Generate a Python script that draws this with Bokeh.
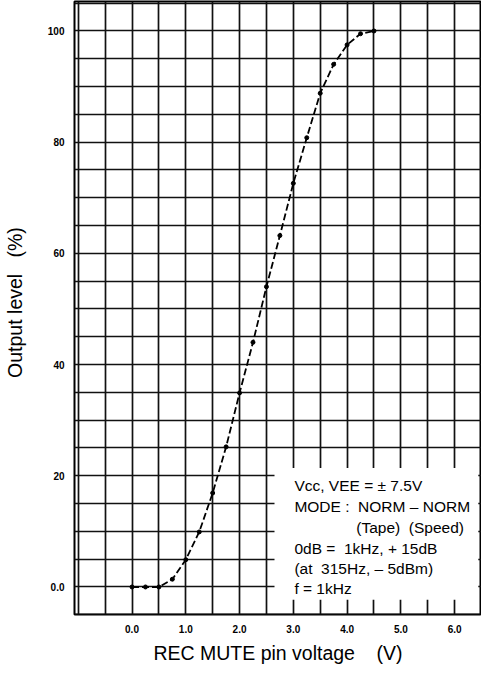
from bokeh.plotting import figure
from bokeh.models import FixedTicker, BoxAnnotation, Label, Range1d
from bokeh.embed import file_html
from bokeh.resources import INLINE
import numpy as np

# ---- data ----
voltage = [0.0, 0.25, 0.5, 0.75, 1.0, 1.25, 1.5, 1.75, 2.0, 2.25, 2.5, 2.75,
           3.0, 3.25, 3.5, 3.75, 4.0, 4.25, 4.5]
output_level = [0.0, 0.0, 0.0, 1.4, 4.9, 9.9, 16.9, 25.2, 34.9, 44.0, 54.0, 63.2,
                72.6, 80.8, 88.8, 94.0, 97.5, 99.5, 100.0]

x_ticks = [0, 1, 2, 3, 4, 5, 6]
x_tick_labels = ["0.0", "1.0", "2.0", "3.0", "4.0", "5.0", "6.0"]
y_ticks = [0, 20, 40, 60, 80, 100]
y_tick_labels = ["0.0", "20", "40", "60", "80", "100"]

NB = "\u00a0"
x_title = "REC MUTE pin voltage" + NB * 4 + "(V)"
y_title = NB * 2 + "Output level" + NB * 3 + "(%)"
note_lines = [
    "Vcc, VEE = \u00b1 7.5V",
    "MODE : " + NB + "NORM \u2013 NORM",
    "(Tape)" + NB + NB + "(Speed)",
    "0dB =" + NB + NB + "1kHz, + 15dB",
    "(at" + NB + NB + "315Hz, \u2013 5dBm)",
    "f = 1kHz",
]

FONT = "Liberation Sans"

p = figure(width=481, height=672, output_backend="svg", toolbar_location=None,
           x_range=Range1d(-1.07, 6.5), y_range=Range1d(-4.95, 105.3),
           min_border_left=69, min_border_right=0, min_border_top=1,
           min_border_bottom=58)

p.background_fill_color = "white"
p.border_fill_color = "white"
p.outline_line_color = "black"
p.outline_line_width = 2

# grid
p.xgrid.ticker = FixedTicker(ticks=list(np.arange(-1.0, 6.51, 0.5)))
p.ygrid.ticker = FixedTicker(ticks=list(np.arange(-5, 106, 5)))
for g in (p.xgrid, p.ygrid):
    g.grid_line_color = "#111111"
    g.grid_line_width = 1.7

# axes
p.xaxis.ticker = FixedTicker(ticks=x_ticks)
p.yaxis.ticker = FixedTicker(ticks=y_ticks)
p.xaxis.major_label_overrides = {t: l for t, l in zip(x_ticks, x_tick_labels)}
p.yaxis.major_label_overrides = {t: l for t, l in zip(y_ticks, y_tick_labels)}
for ax in (p.xaxis, p.yaxis):
    ax.major_tick_line_color = None
    ax.minor_tick_line_color = None
    ax.axis_line_color = None
    ax.major_label_text_font = FONT
    ax.major_label_text_font_style = "bold"
    ax.major_label_text_font_size = "10px"
    ax.major_label_text_color = "black"
    ax.axis_label_text_font = FONT
    ax.axis_label_text_font_style = "normal"
    ax.axis_label_text_font_size = "19.5px"
    ax.axis_label_text_color = "black"
p.xaxis.major_label_standoff = 4
p.yaxis.major_label_standoff = 4
p.xaxis.axis_label = x_title
p.yaxis.axis_label = y_title
p.xaxis.axis_label_standoff = 6
p.yaxis.axis_label_standoff = 19

# curve
p.line(voltage, output_level, line_color="black", line_width=1.8, line_dash="7 3")
p.scatter(voltage, output_level, size=4, color="black")

# note box
p.add_layout(BoxAnnotation(left=2.65, right=6.44, bottom=-2.3, top=21.4,
                           fill_color="white", fill_alpha=1.0, line_color=None))
note_x = [3.02, 3.02, 4.17, 3.02, 3.02, 3.02]
note_y = [18.25, 14.43, 10.65, 6.93, 3.34, -0.25]
for t, xx, yy in zip(note_lines, note_x, note_y):
    p.add_layout(Label(x=xx, y=yy, text=t, text_font=FONT, text_font_size="15.5px",
                       text_baseline="middle", text_align="left", text_color="black"))

open("out.html", "w").write(file_html(p, INLINE))
